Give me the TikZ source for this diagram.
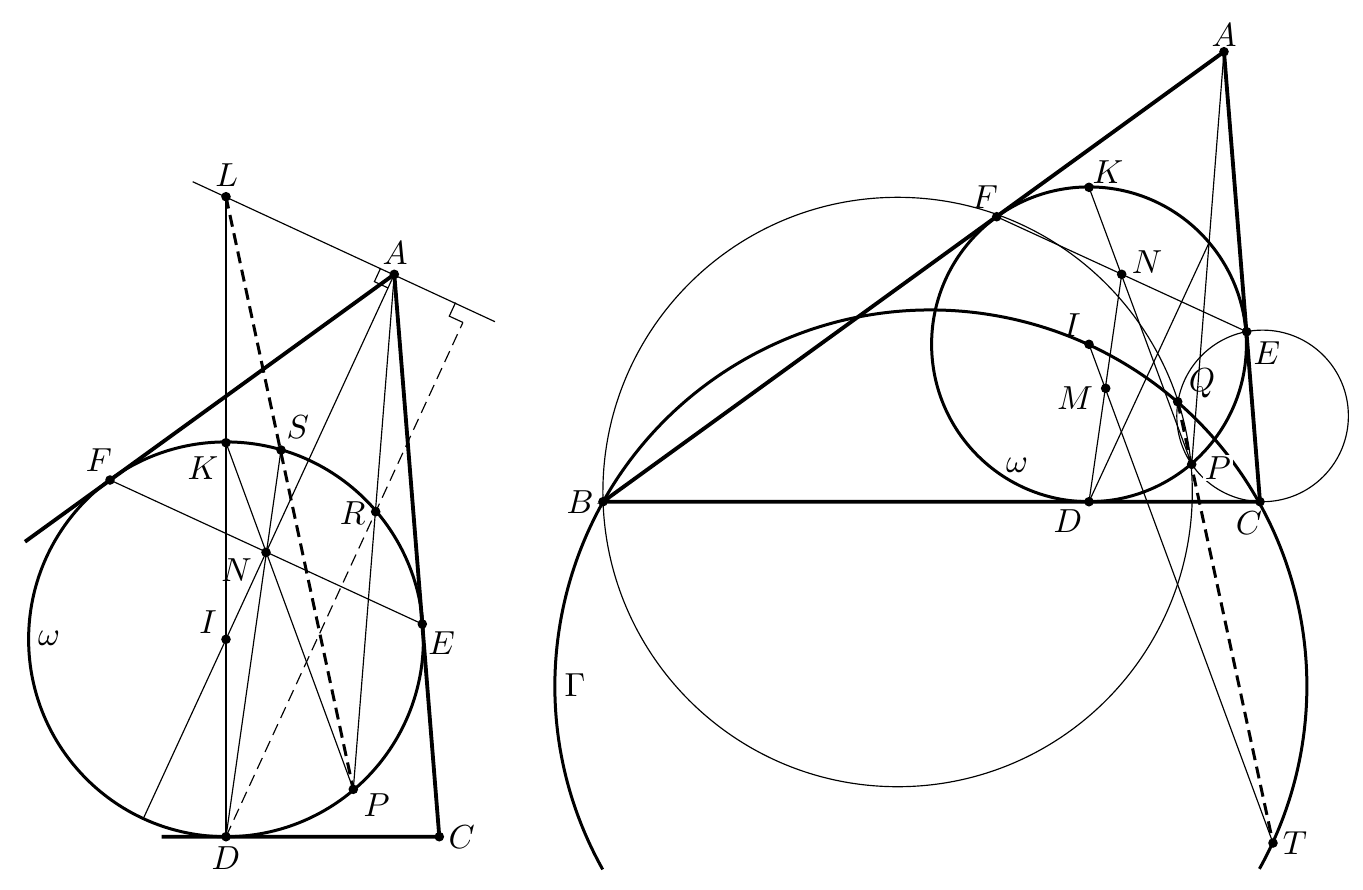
\documentclass[tikz,border=0pt]{standalone}
\usetikzlibrary{calc}

\begin{document}
\begin{tikzpicture}[x=0.3pt,y=-0.3pt,
        side/.style={line width=1.15pt},
        circ/.style={line width=0.9pt},
        aux/.style={line width=0.35pt},
        dashln/.style={line width=0.9pt,dash pattern=on 3.6pt off 2pt},
        dashaux/.style={line width=0.35pt,dash pattern=on 3.6pt off 2pt}]
        \useasboundingbox (0,0) rectangle (1363,889);
        % left figure
        \coordinate (lL) at (226,196.7);
        \coordinate (lA) at (394.3,274.3);
        \coordinate (lF) at (110,480);
        \coordinate (lK) at (226,442.7);
        \coordinate (lS) at (281,450);
        \coordinate (lR) at (375.7,511.7);
        \coordinate (lN) at (266,552.3);
        \coordinate (lI) at (226,639.3);
        \coordinate (lE) at (422.3,624);
        \coordinate (lP) at (353.3,789.3);
        \coordinate (lD) at (226,836.7);
        \coordinate (lC) at (439.3,836.7);
        \coordinate (lB) at (25,541.7);
        \coordinate (lD0) at (161.7,836.7);
        \coordinate (lLa) at (192.7,181.7);
        \coordinate (lLb) at (495,321.7);
        \coordinate (lH) at (469.2,308.8);
        \coordinate (lX) at (143.3,818.6);
        \coordinate (lA1) at ($(lA)!4.5pt!(lL)$);
        \coordinate (lA2) at ($(lA)!4.5pt!(lI)$);
        \coordinate (lA3) at ($(lA1)+(lA2)-(lA)$);
        \coordinate (lH1) at ($(lH)!4.5pt!(lA)$);
        \coordinate (lH2) at ($(lH)!4.5pt!(lD)$);
        \coordinate (lH3) at ($(lH1)+(lH2)-(lH)$);

        \draw[aux] (lLa) -- (lLb);
        \draw[aux] (lL) -- (lD);
        \draw[aux] (lF) -- (lE);
        \draw[aux] (lK) -- (lP);
        \draw[aux] (lA) -- (lX);
        \draw[aux] (lD) -- (lS);
        \draw[aux] (lA) -- (lP);
        \draw[aux] (lA1) -- (lA3) -- (lA2);
        \draw[aux] (lH1) -- (lH3) -- (lH2);
        \draw[dashaux] (lD) -- (lH2);
        \draw[dashln] (lL) -- (lP);
        \draw[circ] (lI) circle[radius=197.4];
        \draw[side] (lB) -- (lA) -- (lC) -- (lD0);
        \foreach \p in {lL,lA,lF,lK,lS,lR,lN,lI,lE,lP,lD,lC}
            \fill (\p) circle[radius=4.8];

        \node (tlL) at (226.7,175) {$L$};
        \node (tlA) at (395,253) {$A$};
        \node (tlS) at (297.7,426.7) {$S$};
        \node (tlK) at (203,468) {$K$};
        \node (tlF) at (99,460) {$F$};
        \node (tlR) at (352.7,513) {$R$};
        \node (tlN) at (236.7,570) {$N$};
        \node (tlI) at (208,621.7) {$I$};
        \node (tlw) at (49,638) {$\omega$};
        \node (tlE) at (441.7,643) {$E$};
        \node (tlP) at (376.7,805) {$P$};
        \node (tlD) at (226,858) {$D$};
        \node (tlC) at (461.7,836.7) {$C$};

        % right figure
        \coordinate (rA) at (1224,51.7);
        \coordinate (rB) at (603,501.7);
        \coordinate (rC) at (1260,501.7);
        \coordinate (rD) at (1089,501.7);
        \coordinate (rF) at (996.7,216.7);
        \coordinate (rK) at (1089,187.3);
        \coordinate (rN) at (1121.7,274.3);
        \coordinate (rE) at (1246.7,331.7);
        \coordinate (rI) at (1089,344.3);
        \coordinate (rM) at (1105.7,388.3);
        \coordinate (rQ) at (1177.7,401.7);
        \coordinate (rP) at (1191.7,464.3);
        \coordinate (rT) at (1273,843);
        \coordinate (rX) at (1209.1,242.6);
        \coordinate (rO) at (897.6,492);
        \coordinate (rU) at (1262.6,415.9);
        \coordinate (rG) at (602.7,869.4);

        \draw[aux] (rO) circle[radius=294.7];
        \draw[aux] (rU) circle[radius=85.8];
        \draw[aux] (rF) -- (rE);
        \draw[aux] (rK) -- (rP);
        \draw[aux] (rN) -- (rD);
        \draw[aux] (rI) -- (rT);
        \draw[aux] (rA) -- (rP);
        \draw[aux] (rD) -- (rX);
        \draw[dashln] (rQ) -- (rT);
        \draw[circ] (rI) circle[radius=157.4];
        \draw[circ] (rG) arc[start angle=150.8,end angle=389.1,radius=376];
        \draw[side] (rB) -- (rA) -- (rC) -- cycle;
        \foreach \p in {rA,rB,rC,rD,rF,rK,rN,rE,rI,rM,rQ,rP,rT}
            \fill (\p) circle[radius=4.8];

        \node (trA) at (1224,35) {$A$};
        \node (trB) at (580,502) {$B$};
        \node (trC) at (1249,523) {$C$};
        \node (trD) at (1068,521) {$D$};
        \node (trE) at (1267,353) {$E$};
        \node (trF) at (985,197) {$F$};
        \node (trK) at (1108,172) {$K$};
        \node (trN) at (1147,262) {$N$};
        \node (trI) at (1072,325) {$I$};
        \node (trM) at (1075,398) {$M$};
        \node (trQ) at (1202,383) {$Q$};
        \node[fill=white,inner sep=0.5pt] (trP) at (1218,468) {$P$};
        \node (trT) at (1295,843) {$T$};
        \node (trw) at (1017,465) {$\omega$};
        \node (trG) at (575,685) {$\Gamma$};
\end{tikzpicture}
\end{document}
